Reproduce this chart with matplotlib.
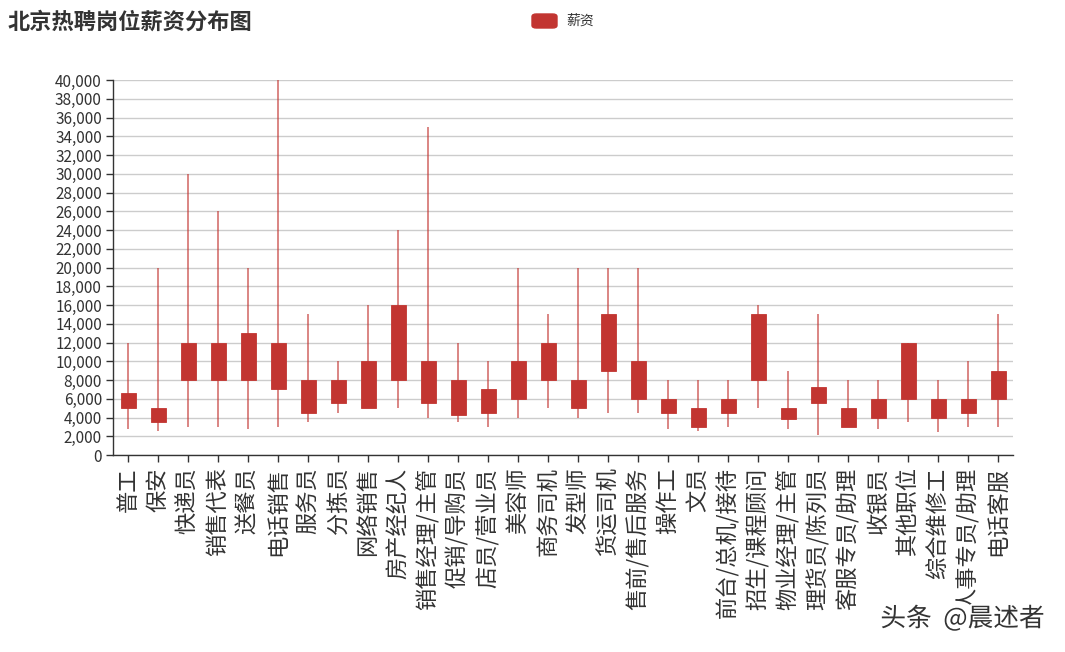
import matplotlib
matplotlib.use("Agg")
import matplotlib.pyplot as plt
import matplotlib.patheffects as pe
from matplotlib.patches import FancyBboxPatch
from matplotlib.ticker import FuncFormatter, MultipleLocator
import numpy as np

plt.rcParams['font.family'] = ['Noto Sans CJK SC', 'DejaVu Sans']

jobs = ["普工", "保安", "快递员", "销售代表", "送餐员", "电话销售", "服务员", "分拣员",
        "网络销售", "房产经纪人", "销售经理/主管", "促销/导购员", "店员/营业员", "美容师",
        "商务司机", "发型师", "货运司机", "售前/售后服务", "操作工", "文员", "前台/总机/接待",
        "招生/课程顾问", "物业经理/主管", "理货员/陈列员", "客服专员/助理", "收银员",
        "其他职位", "综合维修工", "人事专员/助理", "电话客服"]
high = [12000, 20000, 30000, 26000, 20000, 40000, 15000, 10000, 16000, 24000,
        35000, 12000, 10000, 20000, 15000, 20000, 20000, 20000, 8000, 8000,
        8000, 16000, 9000, 15000, 8000, 8000, 12000, 8000, 10000, 15000]
q3 = [6600, 5000, 12000, 12000, 13000, 12000, 8000, 8000, 10000, 16000,
      10000, 8000, 7000, 10000, 12000, 8000, 15000, 10000, 6000, 5000,
      6000, 15000, 5000, 7300, 5000, 6000, 12000, 6000, 6000, 9000]
q1 = [5000, 3500, 8000, 8000, 8000, 7000, 4500, 5500, 5000, 8000,
      5500, 4300, 4500, 6000, 8000, 5000, 9000, 6000, 4500, 3000,
      4500, 8000, 3800, 5500, 3000, 4000, 6000, 4000, 4500, 6000]
low = [2800, 2600, 3000, 3000, 2800, 3000, 3500, 4500, 5000, 5000,
       4000, 3500, 3000, 4000, 5000, 4000, 4500, 4500, 2800, 2600,
       3000, 5000, 2800, 2100, 3000, 2800, 3500, 2500, 3000, 3000]

RED = "#c23531"
TXT = "#333333"

fig = plt.figure(figsize=(10.65, 6.52), dpi=100)
ax = fig.add_axes([113 / 1065, 197 / 652, 900 / 1065, 375 / 652])

x = np.arange(len(jobs))
ax.vlines(x, low, high, color=RED, alpha=0.7, lw=1.2, zorder=2)
ax.bar(x, np.array(q3) - np.array(q1), bottom=q1, width=0.5,
       color=RED, edgecolor=RED, lw=0.6, zorder=3)

ax.set_xlim(-0.5, len(jobs) - 0.5)
ax.set_ylim(0, 40000)
ax.yaxis.set_major_locator(MultipleLocator(2000))
ax.yaxis.set_major_formatter(FuncFormatter(lambda v, p: f"{int(v):,}"))
ax.set_xticks(x)
ax.set_xticklabels(jobs, rotation=90, fontsize=16, color=TXT)
ax.tick_params(axis="y", labelsize=11, colors=TXT, length=5, width=1, pad=3)
ax.tick_params(axis="x", colors=TXT, length=5, width=1, pad=4)
ax.grid(axis="y", color="#cccccc", lw=1)
ax.set_axisbelow(True)
for s in ["top", "right"]:
    ax.spines[s].set_visible(False)
for s in ["left", "bottom"]:
    ax.spines[s].set_color(TXT)
    ax.spines[s].set_linewidth(1)

# title and legend
fig.text(8 / 1065, 1 - 22 / 652, "北京热聘岗位薪资分布图", fontsize=16,
         fontweight="bold", color=TXT, va="center", ha="left")
leg = FancyBboxPatch((532 / 1065, 1 - 28 / 652), 25 / 1065, 14 / 652,
                     boxstyle="round,pad=0,rounding_size=0.004",
                     transform=fig.transFigure, color=RED)
fig.patches.append(leg)
fig.text(566 / 1065, 1 - 21 / 652, "薪资", fontsize=10, color=TXT,
         va="center", ha="left")

# watermark
fig.text(1045 / 1065, 1 - 619 / 652, "头条  @晨述者", fontsize=18.5, color=TXT,
         va="center", ha="right",
         path_effects=[pe.withStroke(linewidth=3, foreground="white")])

fig.savefig("out.png", dpi=100)
